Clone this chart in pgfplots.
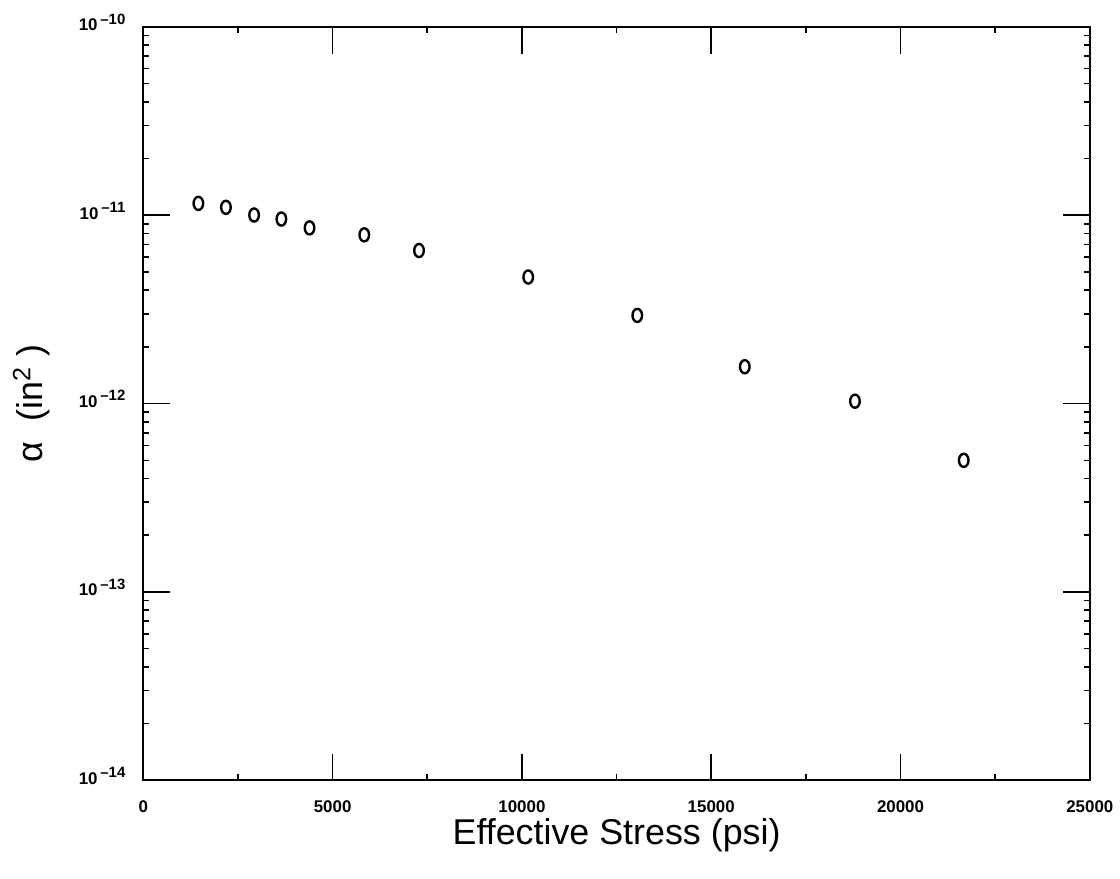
\documentclass[border=0pt]{standalone}
\usepackage{fontspec}
\setmainfont{Liberation Sans}
\usepackage{pgfplots}
\pgfplotsset{compat=1.18}
\newcommand{\dec}[1]{10\,\raisebox{0.75ex}{\fontsize{7.5}{8}\selectfont\textendash#1}}
\begin{document}
\begin{tikzpicture}
\begin{axis}[
  scale only axis,
  width=475.5pt, height=378.5pt,
  xmin=0, xmax=25000,
  ymode=log, ymin=1e-14, ymax=1e-10,
  scaled x ticks=false,
  xtick={0,5000,10000,15000,20000,25000},
  xticklabels={0,5000,10000,15000,20000,25000},
  minor x tick num=1,
  ytick={1e-14,1e-13,1e-12,1e-11,1e-10},
  yticklabels={\dec{14},\dec{13},\dec{12},\dec{11},\dec{10}},
  tick align=inside,
  major tick length=13.5pt,
  minor tick length=3pt,
  every tick/.style={black, line width=0.8pt},
  axis line style={line width=1pt},
  tick label style={font=\fontsize{8.5}{9}\selectfont\bfseries},
  xticklabel style={anchor=center, yshift=-13pt},
  yticklabel style={anchor=base east, xshift=-5.5pt, yshift=-2pt},
  xlabel={Effective Stress (psi)},
  ylabel={α\ \ (in\textsuperscript{2}\ )},
  label style={font=\fontsize{18}{20}\selectfont},
  xlabel style={at={(axis description cs:0.5,-0.073)}, anchor=center},
  ylabel style={at={(axis description cs:-0.118,0.5)}, anchor=center},
]
\addplot[only marks, mark=o, mark size=3.3pt, mark options={xscale=0.73, line width=1.2pt, black}]
coordinates {
(1454,1.156e-11)
(2182,1.102e-11)
(2926,1.003e-11)
(3646,9.55e-12)
(4390,8.57e-12)
(5836,7.87e-12)
(7282,6.50e-12)
(10166,4.70e-12)
(13047,2.94e-12)
(15886,1.57e-12)
(18796,1.03e-12)
(21669,5.00e-13)
};
\end{axis}
\path ([shift={(-72pt,-49.5pt)}]current axis.south west) ([shift={(12.5pt,13.5pt)}]current axis.north east);
\end{tikzpicture}
\end{document}
